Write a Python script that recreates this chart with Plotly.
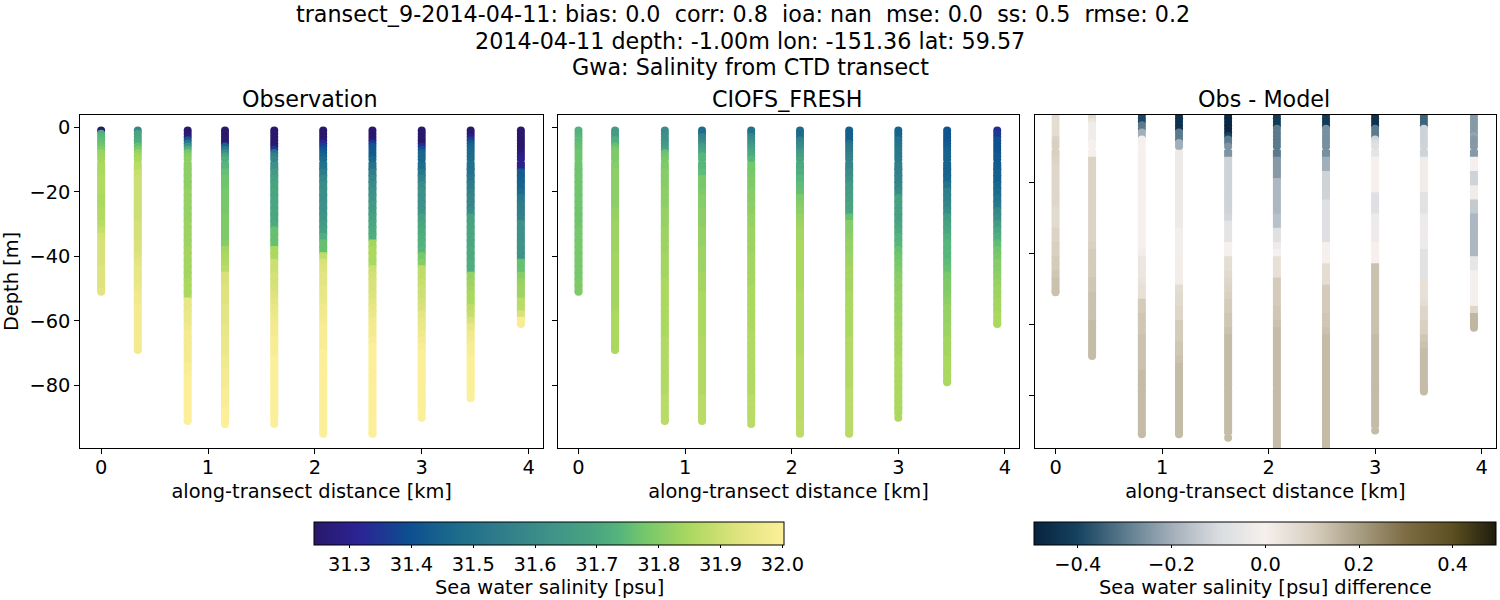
import plotly.graph_objects as go

CAST_KM = [0.0, 0.343, 0.81, 1.159, 1.62, 2.078, 2.539, 3.0, 3.458, 3.928]
OBS_BOTTOM = [51, 69, 91, 92, 92, 95, 95, 90, 84, 61]
MOD_BOTTOM = [51, 69, 91, 91, 92, 95, 95, 90, 79, 61]
UPPER_LEVELS = [1, 2, 3, 4, 5, 6, 7, 8, 9, 10]
LOWER_LEVELS = [12, 14, 16, 18, 20, 22, 24, 26, 28, 30, 32, 34, 36, 38, 40, 42, 44, 46, 48, 50,
                52, 54, 56, 58, 60, 62, 64, 66, 68, 70, 72, 74, 76, 78, 80, 82, 84, 86, 88, 90, 92, 94]

OBS_0 = [31.24,31.72,31.74,31.75,31.76,31.77,31.79,31.82,31.83,31.84,
         31.85,31.85,31.86,31.86,31.86,31.85,31.85,31.86,31.86,31.87,
         31.89,31.91,31.92,31.92,31.92,31.92,31.93,31.93,31.93,31.93,
         31.94]
OBS_1 = [31.58,31.69,31.70,31.71,31.72,31.76,31.78,31.82,31.84,31.85,
         31.87,31.89,31.90,31.90,31.90,31.90,31.90,31.90,31.90,31.91,
         31.91,31.91,31.92,31.92,31.93,31.94,31.95,31.95,31.95,31.96,
         31.97,31.97,31.98,31.98,31.98,31.98,31.98,31.98,31.98,
         31.98]
OBS_2 = [31.24,31.24,31.27,31.42,31.52,31.62,31.72,31.78,31.80,31.81,
         31.81,31.81,31.81,31.81,31.82,31.82,31.82,31.82,31.82,31.83,
         31.83,31.83,31.83,31.84,31.84,31.84,31.84,31.84,31.85,31.85,
         31.85,31.95,31.95,31.96,31.96,31.97,31.98,31.98,31.98,31.98,
         31.98,31.99,31.99,32.0,32.0,32.0,32.0,32.0,32.0,32.0,
         32.0]
OBS_3 = [31.24,31.24,31.24,31.24,31.26,31.45,31.52,31.60,31.68,31.72,
         31.74,31.76,31.77,31.77,31.78,31.78,31.78,31.78,31.79,31.79,
         31.79,31.79,31.80,31.84,31.85,31.86,31.87,31.92,31.92,31.93,
         31.93,31.93,31.94,31.94,31.94,31.95,31.95,31.96,31.96,31.96,
         31.97,31.97,31.98,31.98,31.98,31.99,31.99,31.99,32.0,32.0,
         32.0]
OBS_4 = [31.24,31.24,31.24,31.24,31.24,31.25,31.35,31.50,31.55,31.58,
         31.62,31.66,31.68,31.69,31.70,31.70,31.70,31.70,31.70,31.71,
         31.76,31.76,31.76,31.85,31.85,31.90,31.90,31.91,31.91,31.92,
         31.93,31.94,31.95,31.96,31.97,31.98,31.98,31.99,31.99,31.99,
         32.0,32.0,32.0,32.0,32.0,32.0,32.0,32.0,32.0,32.0,
         32.0]
OBS_5 = [31.24,31.24,31.24,31.25,31.32,31.36,31.40,31.43,31.45,31.47,
         31.50,31.54,31.58,31.60,31.61,31.61,31.62,31.62,31.63,31.66,
         31.68,31.72,31.76,31.76,31.88,31.92,31.93,31.94,31.94,31.95,
         31.95,31.96,31.97,31.97,31.98,31.99,31.99,31.99,31.99,32.0,
         32.0,32.0,32.0,32.0,32.0,32.0,32.0,32.0,32.0,32.0,
         32.0,32.0,
         32.0]
OBS_6 = [31.24,31.24,31.24,31.25,31.35,31.41,31.42,31.43,31.43,31.46,
         31.50,31.55,31.58,31.60,31.62,31.63,31.65,31.66,31.68,31.70,
         31.71,31.72,31.84,31.85,31.85,31.85,31.90,31.91,31.92,31.92,
         31.93,31.94,31.95,31.96,31.97,31.98,31.98,31.99,32.0,32.0,
         32.0,32.0,32.0,32.0,32.0,32.0,32.0,32.0,32.0,32.0,
         32.0,32.0,
         32.0]
OBS_7 = [31.24,31.24,31.24,31.24,31.24,31.33,31.40,31.45,31.46,31.46,
         31.48,31.52,31.56,31.60,31.62,31.62,31.62,31.63,31.68,31.70,
         31.71,31.72,31.73,31.74,31.78,31.80,31.88,31.88,31.89,31.90,
         31.90,31.91,31.92,31.94,31.95,31.96,31.97,31.98,31.99,32.0,
         32.0,32.0,32.0,32.0,32.0,32.0,32.0,32.0,32.0,
         32.0]
OBS_8 = [31.24,31.24,31.28,31.36,31.42,31.45,31.46,31.47,31.47,31.48,
         31.49,31.50,31.52,31.54,31.56,31.58,31.58,31.60,31.68,31.69,
         31.70,31.70,31.70,31.71,31.71,31.72,31.72,31.82,31.83,31.84,
         31.85,31.85,31.88,31.89,31.92,31.95,31.97,31.98,31.99,31.99,
         32.0,32.0,32.0,32.0,32.0,32.0,
         32.0]
OBS_9 = [31.24,31.24,31.24,31.24,31.24,31.24,31.24,31.26,31.28,31.30,
         31.30,31.43,31.44,31.45,31.47,31.52,31.54,31.55,31.56,31.62,
         31.62,31.62,31.63,31.63,31.63,31.76,31.76,31.80,31.82,31.83,
         31.83,31.87,31.87,31.92,31.99,
         31.99]

MOD_0 = [31.73,31.73,31.74,31.75,31.75,31.76,31.76,31.77,31.77,31.77,
         31.77,31.77,31.77,31.77,31.77,31.77,31.77,31.77,31.77,31.77,
         31.78,31.78,31.78,31.78,31.78,31.78,31.78,31.78,31.79,31.79,
         31.79]
MOD_1 = [31.66,31.66,31.66,31.72,31.72,31.76,31.78,31.79,31.79,31.79,
         31.80,31.81,31.81,31.81,31.81,31.81,31.81,31.82,31.82,31.83,
         31.83,31.83,31.83,31.83,31.84,31.84,31.84,31.84,31.84,31.84,
         31.84,31.84,31.84,31.85,31.85,31.85,31.85,31.85,31.85,
         31.85]
MOD_2 = [31.60,31.60,31.62,31.62,31.64,31.66,31.68,31.76,31.77,31.78,
         31.79,31.80,31.80,31.80,31.81,31.81,31.81,31.82,31.82,31.82,
         31.83,31.83,31.83,31.83,31.84,31.84,31.84,31.84,31.85,31.85,
         31.85,31.85,31.85,31.85,31.85,31.85,31.85,31.86,31.86,31.86,
         31.86,31.86,31.86,31.86,31.86,31.86,31.87,31.87,31.87,31.87,
         31.87]
MOD_3 = [31.48,31.48,31.56,31.58,31.60,31.65,31.68,31.70,31.74,31.74,
         31.74,31.75,31.78,31.78,31.79,31.80,31.80,31.81,31.81,31.81,
         31.82,31.82,31.82,31.83,31.83,31.83,31.83,31.84,31.84,31.84,
         31.85,31.85,31.85,31.85,31.85,31.85,31.85,31.86,31.86,31.86,
         31.86,31.86,31.86,31.86,31.86,31.86,31.87,31.87,31.87,31.87,
         31.87]
MOD_4 = [31.50,31.50,31.58,31.60,31.62,31.65,31.68,31.70,31.71,31.74,
         31.78,31.78,31.79,31.79,31.80,31.80,31.81,31.81,31.82,31.82,
         31.83,31.83,31.83,31.83,31.84,31.84,31.84,31.84,31.84,31.85,
         31.85,31.85,31.85,31.85,31.85,31.85,31.86,31.86,31.86,31.86,
         31.86,31.86,31.86,31.86,31.86,31.86,31.87,31.87,31.87,31.87,
         31.87]
MOD_5 = [31.47,31.47,31.47,31.55,31.57,31.59,31.61,31.65,31.67,31.69,
         31.71,31.72,31.74,31.75,31.76,31.79,31.80,31.81,31.82,31.83,
         31.84,31.84,31.85,31.85,31.85,31.85,31.85,31.85,31.85,31.85,
         31.86,31.86,31.86,31.86,31.86,31.86,31.86,31.86,31.86,31.86,
         31.87,31.87,31.87,31.87,31.87,31.87,31.87,31.87,31.87,31.87,
         31.88,31.88,
         31.88]
MOD_6 = [31.44,31.44,31.44,31.44,31.50,31.52,31.53,31.54,31.56,31.57,
         31.58,31.60,31.62,31.66,31.67,31.68,31.69,31.70,31.76,31.80,
         31.80,31.81,31.82,31.82,31.83,31.83,31.84,31.84,31.84,31.84,
         31.85,31.85,31.85,31.85,31.85,31.85,31.85,31.86,31.86,31.86,
         31.86,31.86,31.86,31.86,31.86,31.87,31.87,31.87,31.87,31.87,
         31.87,31.87,
         31.87]
MOD_7 = [31.45,31.45,31.45,31.50,31.50,31.51,31.52,31.52,31.52,31.53,
         31.55,31.56,31.57,31.58,31.60,31.68,31.68,31.68,31.68,31.70,
         31.71,31.73,31.74,31.76,31.77,31.78,31.79,31.80,31.81,31.81,
         31.82,31.82,31.82,31.83,31.83,31.83,31.84,31.84,31.84,31.84,
         31.85,31.85,31.85,31.85,31.85,31.85,31.85,31.85,31.85,
         31.85]
MOD_8 = [31.41,31.41,31.41,31.41,31.42,31.43,31.44,31.45,31.45,31.45,
         31.45,31.45,31.46,31.50,31.55,31.56,31.58,31.60,31.66,31.68,
         31.70,31.72,31.74,31.74,31.74,31.75,31.76,31.78,31.79,31.79,
         31.80,31.81,31.82,31.82,31.82,31.83,31.83,31.84,31.84,31.84,
         31.85,31.85,31.85,31.85,
         31.85]
MOD_9 = [31.33,31.36,31.36,31.40,31.40,31.40,31.40,31.41,31.42,31.42,
         31.43,31.44,31.44,31.46,31.47,31.50,31.52,31.58,31.60,31.66,
         31.70,31.72,31.75,31.77,31.78,31.80,31.80,31.81,31.82,31.83,
         31.83,31.84,31.84,31.85,31.85,
         31.85]

DIF_0 = [.07,.07,.06,.06,.06,.06,.06,.09,.10,.10,
         .10,.09,.08,.08,.08,.08,.08,.08,.07,.07,
         .07,.09,.09,.10,.10,.11,.11,.12,.13,.13,
         .13]
DIF_1 = [.07,.07,.04,-.02,-.02,-.02,-.02,-.02,0,0,
         0,.09,.09,.09,.09,.09,.09,.09,.09,.09,
         .09,.09,.09,.10,.11,.11,.11,.11,.12,.12,
         .13,.13,.13,.13,.14,.14,.14,.14,.14,
         .14]
DIF_2 = [-.39,-.39,-.39,-.30,-.30,-.20,-.20,0,0,0,
         0,0,0,0,0,0,0,0,0,0,
         0,0,0,0,.01,.03,.03,.03,.04,.05,
         .05,.11,.11,.12,.12,.12,.13,.13,.13,.13,
         .13,.14,.14,.14,.14,.14,.14,.14,.14,.14,
         .14]
DIF_3 = [-.45,-.45,-.45,-.45,-.45,-.30,-.30,-.30,-.20,-.20,
         -.03,-.03,-.03,-.03,-.03,-.03,-.03,-.03,-.03,-.03,
         -.03,-.01,-.01,-.01,-.01,.01,.01,.01,.01,.06,
         .07,.07,.08,.08,.11,.11,.11,.12,.12,.13,
         .14,.14,.14,.14,.14,.14,.14,.14,.14,.14,
         .14]
DIF_4 = [-.48,-.48,-.48,-.48,-.48,-.48,-.40,-.30,-.30,-.25,
         -.25,-.12,-.12,-.12,-.12,-.12,-.12,-.12,-.12,-.11,
         -.06,-.06,-.06,0,0,.06,.06,.07,.08,.09,
         .10,.11,.11,.12,.12,.13,.14,.14,.14,.14,
         .14,.14,.14,.14,.14,.14,.14,.14,.14,.14,
         .14]
DIF_5 = [-.42,-.42,-.42,-.42,-.30,-.30,-.30,-.30,-.30,-.30,
         -.30,-.24,-.24,-.24,-.18,-.18,-.18,-.18,-.18,-.16,
         -.16,-.08,-.08,-.03,0,.05,.05,.05,.11,.11,
         .11,.11,.12,.12,.13,.14,.14,.14,.14,.14,
         .14,.14,.14,.14,.14,.14,.14,.14,.14,.14,
         .14,.14,
         .14]
DIF_6 = [-.42,-.42,-.42,-.42,-.26,-.26,-.26,-.26,-.26,-.26,
         -.26,-.20,-.20,-.12,-.12,-.12,-.12,-.08,-.08,-.08,
         -.08,-.08,-.08,0,0,0,.06,.06,.06,.11,
         .11,.11,.11,.12,.12,.13,.14,.14,.14,.14,
         .14,.14,.14,.14,.14,.14,.14,.14,.14,.14,
         .14,.14,
         .14]
DIF_7 = [-.45,-.45,-.45,-.45,-.30,-.30,-.30,-.12,-.10,-.08,
         -.06,0,0,0,0,0,-.08,-.08,-.08,-.03,
         -.03,-.03,-.03,0,0,0,.13,.13,.13,.13,
         .13,.13,.13,.13,.13,.13,.14,.14,.14,.14,
         .14,.14,.14,.14,.14,.14,.14,.14,.14,
         .14]
DIF_8 = [-.34,-.34,-.34,-.34,-.12,-.12,-.12,-.12,-.12,-.12,
         -.12,-.02,-.02,-.02,-.02,-.02,-.07,-.07,-.07,-.03,
         -.03,-.03,-.03,-.03,-.07,-.07,-.07,-.07,.05,.05,
         .05,.06,.08,.08,.10,.10,.12,.13,.14,.14,
         .14,.14,.14,.14,
         .14]
DIF_9 = [-.27,-.24,-.24,-.24,-.24,-.24,-.22,-.24,-.24,-.24,
         -.24,0,0,-.12,-.12,-.02,-.02,-.14,-.14,-.18,
         -.18,-.18,-.18,-.18,-.18,-.05,-.05,0,0,0,
         0,0,.08,.15,.15,
         .15]

OBS = [OBS_0, OBS_1, OBS_2, OBS_3, OBS_4, OBS_5, OBS_6, OBS_7, OBS_8, OBS_9]
MOD = [MOD_0, MOD_1, MOD_2, MOD_3, MOD_4, MOD_5, MOD_6, MOD_7, MOD_8, MOD_9]
DIF = [DIF_0, DIF_1, DIF_2, DIF_3, DIF_4, DIF_5, DIF_6, DIF_7, DIF_8, DIF_9]

HALINE = [[0.0, "rgb(41,24,107)"], [0.1, "rgb(43,36,150)"], [0.2, "rgb(13,78,144)"], [0.3, "rgb(27,107,140)"],
          [0.4, "rgb(48,125,138)"], [0.5, "rgb(62,146,136)"], [0.6, "rgb(74,165,128)"], [0.65, "rgb(85,181,124)"],
          [0.7, "rgb(115,198,108)"], [0.8, "rgb(172,216,95)"], [0.9, "rgb(222,227,125)"], [1.0, "rgb(253,239,154)"]]
DIFF = [[0.0, "rgb(8,35,63)"], [0.093, "rgb(21,65,95)"], [0.195, "rgb(90,122,140)"], [0.297, "rgb(162,174,185)"],
        [0.399, "rgb(217,220,224)"], [0.5, "rgb(245,240,237)"], [0.601, "rgb(217,208,193)"], [0.703, "rgb(168,158,131)"],
        [0.805, "rgb(125,108,68)"], [0.906, "rgb(92,80,32)"], [1.0, "rgb(30,28,12)"]]

FONT = "DejaVu Sans"
TICK = 19.4
INK = "#000000"
TITLE_LINES = ["transect_9-2014-04-11: bias: 0.0\u00a0\u00a0corr: 0.8\u00a0\u00a0ioa: nan\u00a0\u00a0mse: 0.0\u00a0\u00a0ss: 0.5\u00a0\u00a0rmse: 0.2\u00a0\u00a0",
               "2014-04-11 depth: -1.00m lon: -151.36 lat: 59.57",
               "Gwa: Salinity from CTD transect"]
PANELS = ["Observation", "CIOFS_FRESH", "Obs - Model"]
BAR_TITLES = ["Sea water salinity [psu]", "Sea water salinity [psu] difference"]

def depths(bottom, n):
    lv = UPPER_LEVELS + [d for d in LOWER_LEVELS if d < bottom] + [bottom]
    assert len(lv) == n, (bottom, n, len(lv))
    return lv

fig = go.Figure()
SETS = [(OBS, OBS_BOTTOM, "x", "y", "coloraxis"),
        (MOD, MOD_BOTTOM, "x2", "y2", "coloraxis"),
        (DIF, MOD_BOTTOM, "x3", "y3", "coloraxis2")]
for rows, bottoms, xa, ya, ca in SETS:
    for km, vals, bottom in zip(CAST_KM, rows, bottoms):
        lv = depths(bottom, len(vals))
        symbols = ["square" if 12 <= d < bottom else "circle" for d in lv]
        fig.add_trace(go.Scatter(x=[km] * len(lv), y=[-d for d in lv], mode="markers", xaxis=xa, yaxis=ya,
                                 showlegend=False,
                                 marker=dict(size=8, color=vals, coloraxis=ca, symbol=symbols, line=dict(width=0))))

W, H = 1500.0, 600.0
DOMX = [(80.3, 543), (557.7, 1019.3), (1034.8, 1496)]
XR = [-0.195, 4.135]
axis_common = dict(showgrid=False, zeroline=False, showline=True, mirror=True, linecolor=INK, linewidth=1,
                   ticks="outside", ticklen=5, tickwidth=1, tickcolor=INK,
                   tickfont=dict(family=FONT, size=TICK, color=INK))
layout = dict(width=1500, height=600, margin=dict(l=0, r=0, t=0, b=0, autoexpand=False), paper_bgcolor="white", plot_bgcolor="white",
              font=dict(family=FONT, color=INK), showlegend=False)
YRANGES = [[-99.4, 3.8], [-99.4, 3.8], [-94.9, -1.1]]
YTICKS = [[0, -20, -40, -60, -80], [0, -20, -40, -60, -80], [-20, -40, -60, -80]]
for i in range(3):
    s = "" if i == 0 else str(i + 1)
    layout["xaxis" + s] = dict(axis_common, domain=[DOMX[i][0] / W, DOMX[i][1] / W], range=XR, tickvals=[0, 1, 2, 3, 4],
                               anchor="y" + s, ticklabelstandoff=-3,
                               title=dict(text="along-transect distance [km]", standoff=6,
                                          font=dict(family=FONT, size=TICK, color=INK)))
    layout["yaxis" + s] = dict(axis_common, domain=[1 - 448 / H, 1 - 115 / H], range=YRANGES[i], tickvals=YTICKS[i],
                               anchor="x" + s, showticklabels=(i == 0))
layout["yaxis"]["title"] = dict(text="Depth [m]", standoff=6, font=dict(family=FONT, size=TICK, color=INK))
layout["coloraxis"] = dict(colorscale=HALINE, cmin=31.243, cmax=32.003, colorbar=dict(
    orientation="h", x=314.3 / W, xanchor="left", y=1 - 521.7 / H, yanchor="top", yref="paper", lenmode="pixels", len=470,
    thicknessmode="pixels", thickness=23, outlinewidth=1, outlinecolor=INK, ticks="outside", ticklen=3, tickcolor=INK,
    tickvals=[31.3, 31.4, 31.5, 31.6, 31.7, 31.8, 31.9, 32.0], ticktext=["31.3", "31.4", "31.5", "31.6", "31.7", "31.8", "31.9", "32.0"],
    tickfont=dict(family=FONT, size=TICK, color=INK), xpad=0, ypad=0))
layout["coloraxis2"] = dict(colorscale=DIFF, cmin=-0.493, cmax=0.493, colorbar=dict(
    orientation="h", x=1034.3 / W, xanchor="left", y=1 - 521.7 / H, yanchor="top", yref="paper", lenmode="pixels", len=462,
    thicknessmode="pixels", thickness=23, outlinewidth=1, outlinecolor=INK, ticks="outside", ticklen=3, tickcolor=INK,
    tickvals=[-0.4, -0.2, 0.0, 0.2, 0.4], ticktext=["\u22120.4", "\u22120.2", "0.0", "0.2", "0.4"],
    tickfont=dict(family=FONT, size=TICK, color=INK), xpad=0, ypad=0))

anns = []
for line, y in zip(TITLE_LINES, [14, 41, 67]):
    anns.append(dict(text=line, xref="paper", yref="paper", x=0.5, y=1 - y / H, xanchor="center", yanchor="middle",
                     showarrow=False, font=dict(family=FONT, size=22.25, color=INK)))
for i, name in enumerate(PANELS):
    anns.append(dict(text=name, xref="paper", yref="paper", x=(DOMX[i][0] + DOMX[i][1]) / 2 / W - 0.001, y=1 - 99 / H,
                     xanchor="center", yanchor="middle", showarrow=False, font=dict(family=FONT, size=22.25, color=INK)))
for name, cx in zip(BAR_TITLES, [549, 1265]):
    anns.append(dict(text=name, xref="paper", yref="paper", x=cx / W, y=1 - 587 / H, xanchor="center", yanchor="middle",
                     showarrow=False, font=dict(family=FONT, size=TICK, color=INK)))
layout["annotations"] = anns
fig.update_layout(**layout)
fig.write_html("out.html", config={"displayModeBar": False}, post_script="document.body.style.margin='0';")
